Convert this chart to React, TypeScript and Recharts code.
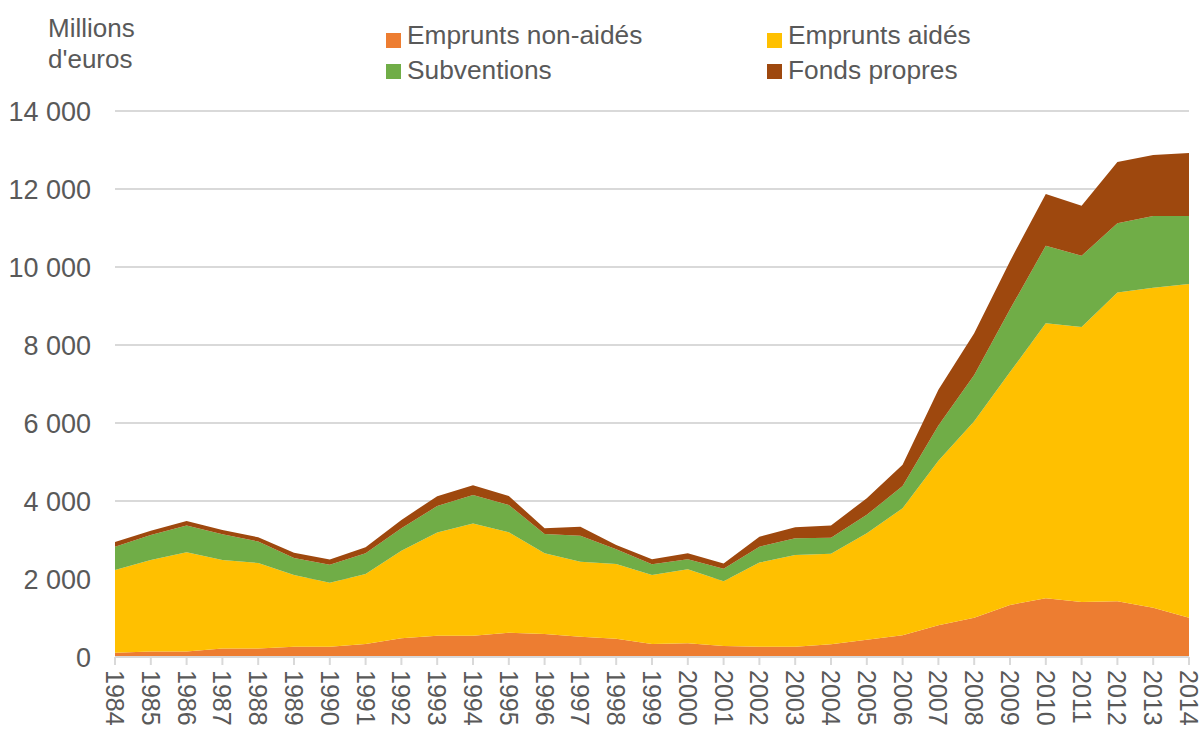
import React from 'react';
import { AreaChart, Area, XAxis, YAxis, CartesianGrid } from 'recharts';

// Years on the x axis
const years = [
  1984, 1985, 1986, 1987, 1988, 1989, 1990, 1991, 1992, 1993, 1994, 1995, 1996, 1997, 1998,
  1999, 2000, 2001, 2002, 2003, 2004, 2005, 2006, 2007, 2008, 2009, 2010, 2011, 2012, 2013, 2014,
];

// Millions d'euros
const empruntsNonAides = [
  110, 140, 140, 220, 220, 265, 265, 335, 480, 545, 545, 625, 590, 520, 470,
  335, 350, 280, 265, 265, 325, 440, 560, 815, 1005, 1335, 1505, 1410, 1430, 1260, 1005,
];
const empruntsAides = [
  2120, 2350, 2545, 2265, 2190, 1840, 1640, 1795, 2245, 2650, 2875, 2575, 2070, 1925, 1915,
  1770, 1900, 1665, 2155, 2350, 2325, 2735, 3255, 4220, 5040, 5970, 7050, 7050, 7915, 8210, 8560,
];
const subventions = [
  600, 640, 690, 660, 550, 435, 460, 530, 575, 675, 735, 700, 495, 665, 375,
  275, 255, 315, 410, 430, 410, 470, 570, 900, 1185, 1610, 1990, 1830, 1780, 1840, 1745,
];
const fondsPropres = [
  120, 110, 110, 110, 110, 130, 135, 155, 215, 255, 250, 230, 145, 230, 110,
  125, 155, 135, 255, 280, 315, 425, 545, 920, 1070, 1235, 1330, 1280, 1565, 1565, 1610,
];

const yTicks = [0, 2000, 4000, 6000, 8000, 10000, 12000, 14000];

const series = [
  { key: 'nonAides', name: 'Emprunts non-aidés', color: '#ED7D31' },
  { key: 'aides', name: 'Emprunts aidés', color: '#FFC000' },
  { key: 'subventions', name: 'Subventions', color: '#70AD47' },
  { key: 'fonds', name: 'Fonds propres', color: '#9E480E' },
];

const data = years.map((y, i) => ({
  year: y,
  nonAides: empruntsNonAides[i],
  aides: empruntsAides[i],
  subventions: subventions[i],
  fonds: fondsPropres[i],
}));

const FONT = '"Liberation Sans", Arial, sans-serif';
const TEXT = '#595959';

const fmt = (v: number) => String(v).replace(/\B(?=(\d{3})+(?!\d))/g, ' ');

const XTick = (props: any) => {
  const { x, y, payload } = props;
  return (
    <text
      x={x}
      y={y}
      dy="0.36em"
      transform={`rotate(90 ${x} ${y})`}
      textAnchor="start"
      fill={TEXT}
      fontSize={25}
      fontFamily={FONT}
    >
      {payload.value}
    </text>
  );
};

// legend slots: [left of marker, top of row]
const legendPos = [
  [386, 18],
  [767, 18],
  [386, 53],
  [767, 53],
];

const App: React.FC = () => {
  return (
    <div style={{ position: 'absolute', left: 0, top: 0, width: 1203, height: 731, background: '#fff', fontFamily: FONT }}>
      <div style={{ position: 'absolute', left: 48, top: 13, fontSize: 26, lineHeight: '31px', color: TEXT }}>
        Millions
        <br />
        d'euros
      </div>

      {series.map((s, i) => (
        <div key={s.key} style={{ position: 'absolute', left: legendPos[i][0], top: legendPos[i][1], height: 35 }}>
          <div style={{ position: 'absolute', left: 0, top: i < 2 ? 15 : 11, width: 15, height: 15, background: s.color }} />
          <span style={{ position: 'absolute', left: 21, top: 0, whiteSpace: 'nowrap', fontSize: 26.3, lineHeight: '35px', color: TEXT }}>
            {s.name}
          </span>
        </div>
      ))}

      <AreaChart width={1203} height={731} data={data} margin={{ top: 111, right: 14, bottom: 0, left: 0 }}>
        <CartesianGrid vertical={false} stroke="#d9d9d9" strokeWidth={2} />
        <XAxis
          dataKey="year"
          height={74}
          stroke="#d9d9d9"
          strokeWidth={2}
          tickSize={8}
          tickMargin={5}
          interval={0}
          tick={<XTick />}
        />
        <YAxis
          width={115}
          domain={[0, 14000]}
          ticks={yTicks}
          axisLine={false}
          tickLine={false}
          tickSize={0}
          tickMargin={24}
          tickFormatter={fmt}
          tick={{ fill: TEXT, fontSize: 27, fontFamily: FONT }}
        />
        {series.map((s) => (
          <Area
            key={s.key}
            type="linear"
            dataKey={s.key}
            name={s.name}
            stackId="1"
            stroke="none"
            fill={s.color}
            fillOpacity={1}
            isAnimationActive={false}
          />
        ))}
      </AreaChart>
    </div>
  );
};

export default App;
